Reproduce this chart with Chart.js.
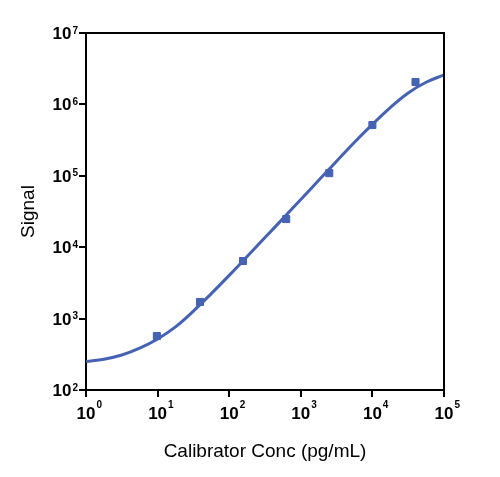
<!DOCTYPE html>
<html>
<head>
<meta charset="utf-8">
<script src="https://cdn.jsdelivr.net/npm/chart.js@4/dist/chart.umd.min.js"></script>
<style>
  body { margin: 0; background: #fff; }
  #wrap { width: 500px; height: 477px; position: relative; }
</style>
</head>
<body>
<div id="wrap"><canvas id="calChart"></canvas></div>
<script>
// measured calibrators
const concPts = [9.77, 39.1, 156, 625, 2500, 10000, 40000];
const signalPts = [570, 1710, 6400, 24800, 109000, 514000, 2060000];

// fitted curve, every quarter decade
const curveConc = [1, 1.778, 3.162, 5.623, 10, 17.78, 31.62, 56.23, 100, 177.8, 316.2, 562.3,
  1000, 1778, 3162, 5623, 10000, 17780, 31620, 56230, 100000];
const curveSignal = [250, 270, 309, 385, 519, 767, 1274, 2239, 4027, 7413, 13650, 25120,
  46560, 86500, 160300, 295100, 524800, 901600, 1445000, 2042000, 2582000];

// ticks
const xTickVals = [1, 10, 100, 1000, 10000, 100000];
const xTickExps = ["0", "1", "2", "3", "4", "5"];
const yTickVals = [100, 1000, 10000, 100000, 1000000, 10000000];
const yTickExps = ["2", "3", "4", "5", "6", "7"];

const xTitle = "Calibrator Conc (pg/mL)";
const yTitle = "Signal";

const blue = "#4562b3";
const FONT = '"Liberation Sans", Arial, sans-serif';

// cadre + libelles 10^n + titres
const framePlugin = {
  id: "frame",
  afterDraw(chart) {
    const ctx = chart.ctx;
    const a = chart.chartArea;
    const xs = chart.scales.x, ys = chart.scales.y;
    ctx.save();
    ctx.strokeStyle = "#000";
    ctx.lineWidth = 2;
    ctx.beginPath();
    ctx.moveTo(a.left - 1, a.top);
    ctx.lineTo(a.right, a.top);
    ctx.lineTo(a.right, a.bottom + 1);
    ctx.stroke();

    ctx.fillStyle = "#000";
    ctx.textBaseline = "alphabetic";
    const baseFont = "bold 17px " + FONT;
    const expFont = "bold 10px " + FONT;

    // Y
    yTickVals.forEach((v, i) => {
      const py = ys.getPixelForValue(v);
      ctx.font = expFont;
      const ew = ctx.measureText(yTickExps[i]).width;
      const right = a.left - 8;
      ctx.textAlign = "left";
      ctx.fillText(yTickExps[i], right - ew, py + 0.5);
      ctx.font = baseFont;
      ctx.textAlign = "right";
      ctx.fillText("10", right - ew - 1, py + 6);
    });

    // X : "10" centre sur le tick, exposant accole
    xTickVals.forEach((v, i) => {
      const px = xs.getPixelForValue(v);
      ctx.font = baseFont;
      const bw = ctx.measureText("10").width;
      const start = px - bw / 2;
      ctx.textAlign = "left";
      ctx.fillText("10", start, a.bottom + 28.5);
      ctx.font = expFont;
      ctx.fillText(xTickExps[i], start + bw + 1, a.bottom + 18);
    });

    // titres
    ctx.font = "19px " + FONT;
    ctx.textAlign = "center";
    ctx.fillText(xTitle, (a.left + a.right) / 2, a.bottom + 66.5);
    ctx.save();
    ctx.translate(34, (a.top + a.bottom) / 2);
    ctx.rotate(-Math.PI / 2);
    ctx.fillText(yTitle, 0, 0);
    ctx.restore();
    ctx.restore();
  }
};

const axisCommon = {
  type: "logarithmic",
  grid: { drawOnChartArea: false, drawTicks: true, tickLength: 7, color: "#000", lineWidth: 2 },
  border: { display: true, color: "#000", width: 2 },
  ticks: { display: false }
};

new Chart(document.getElementById("calChart"), {
  type: "scatter",
  data: {
    datasets: [
      {
        label: "fit",
        data: curveConc.map((c, i) => ({ x: c, y: curveSignal[i] })),
        showLine: true,
        borderColor: blue,
        borderWidth: 3,
        pointRadius: 0,
        tension: 0.4
      },
      {
        label: "calibrators",
        data: concPts.map((c, i) => ({ x: c, y: signalPts[i] })),
        pointStyle: "rect",
        pointRadius: 5,
        backgroundColor: blue,
        borderColor: blue,
        borderWidth: 1
      }
    ]
  },
  options: {
    responsive: true,
    maintainAspectRatio: false,
    animation: false,
    layout: { padding: { left: 0, top: 33, right: 56, bottom: 0 } },
    plugins: { legend: { display: false }, tooltip: { enabled: false } },
    scales: {
      x: Object.assign({}, axisCommon, {
        min: 1, max: 100000,
        afterBuildTicks: s => { s.ticks = xTickVals.map(v => ({ value: v })); },
        afterFit: s => { s.height = 87; }
      }),
      y: Object.assign({}, axisCommon, {
        min: 100, max: 10000000,
        afterBuildTicks: s => { s.ticks = yTickVals.map(v => ({ value: v })); },
        afterFit: s => { s.width = 86; }
      })
    }
  },
  plugins: [framePlugin]
});
</script>
</body>
</html>
